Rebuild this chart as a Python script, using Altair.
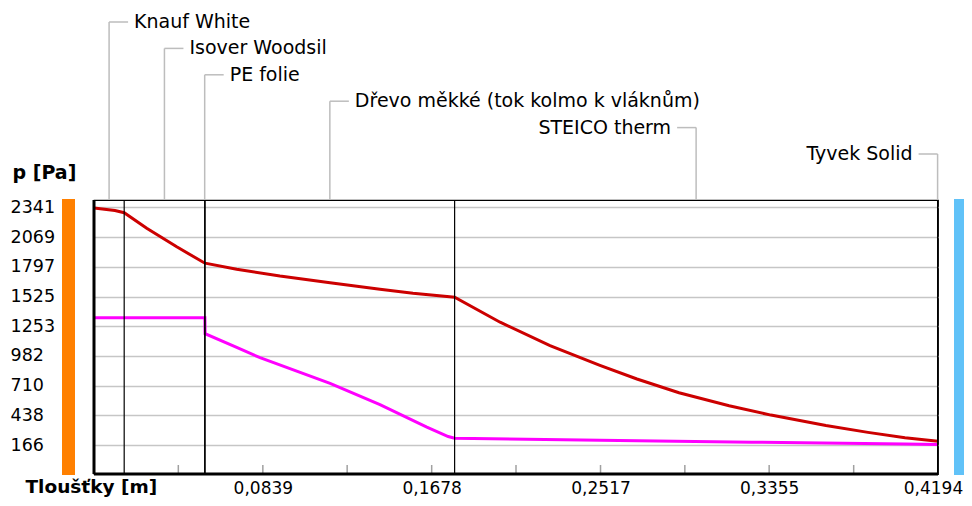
import altair as alt
import pandas as pd

# ---------------- data ----------------
layer_names = ["Knauf White", "Isover Woodsil", "PE folie",
               "Dřevo měkké (tok kolmo k vláknům)", "STEICO therm", "Tyvek Solid"]
layer_thickness = [0.015, 0.040, 0.0002, 0.124, 0.240, 0.0002]

# saturation pressure (red)
sat_x = [0.0, 0.0104, 0.015, 0.0262, 0.0411, 0.0543, 0.0552, 0.0709, 0.0924,
         0.1173, 0.1421, 0.1585, 0.1792, 0.2018, 0.2266, 0.2514, 0.2698,
         0.2907, 0.3156, 0.3364, 0.3637, 0.3846, 0.4030, 0.4194]
sat_p = [2335, 2312, 2292, 2149, 1980, 1838, 1830, 1774, 1712,
         1651, 1591, 1554, 1518, 1290, 1075, 895, 770,
         645, 525, 440, 345, 282, 232, 200]

# partial pressure (magenta)
par_x = [0.0, 0.015, 0.0551, 0.0552, 0.0709, 0.0825, 0.1173, 0.1421, 0.1654,
         0.1760, 0.1792, 0.2514, 0.3268, 0.4030, 0.4194]
par_p = [1330, 1330, 1330, 1185, 1060, 965, 730, 535, 330,
         244, 228, 210, 192, 175, 170]

y_ticks = [166, 438, 710, 982, 1253, 1525, 1797, 2069, 2341]
x_ticks = [0.0839, 0.1678, 0.2517, 0.3355, 0.4194]
x_minor_ticks = [0.0419, 0.0839, 0.1258, 0.1678, 0.2097, 0.2517, 0.2936, 0.3355, 0.3775]

# ---------------- layout ----------------
W, H = 844, 274
XMAX = 0.4194
YDOM = [-99, 2408]
FONT = "DejaVu Sans"
PA_PER_PX = (YDOM[1] - YDOM[0]) / H

xs = alt.Scale(domain=[0, XMAX], nice=False, zero=False)
ys = alt.Scale(domain=YDOM, nice=False, zero=False)

curves = pd.concat([
    pd.DataFrame({"series": "sat", "x": sat_x, "p": sat_p, "i": range(len(sat_x))}),
    pd.DataFrame({"series": "par", "x": par_x, "p": par_p, "i": range(len(par_x))}),
])

bounds = [0.0]
for t in layer_thickness:
    bounds.append(bounds[-1] + t)
inner_bounds = pd.DataFrame({"x": bounds[1:-1]})

anchors = []
for k, t in enumerate(layer_thickness):
    anchors.append(bounds[k] if t < 0.001 else (bounds[k] + bounds[k + 1]) / 2)

seg = 19 * XMAX / W
rows = []
for k, (name, ax) in enumerate(zip(layer_names, anchors)):
    side = -1 if ax > XMAX / 2 else 1
    above_px = 178 - k * 26.4           # distance above the plot top
    rows.append({"name": name, "x": ax, "hx": ax + side * seg,
                 "p": YDOM[1] + above_px * PA_PER_PX,
                 "side": "L" if side < 0 else "R"})
labels = pd.DataFrame(rows)

xaxis = alt.Axis(values=x_ticks, labelExpr="replace(format(datum.value, '.4f'), '.', ',')",
                 grid=False, ticks=False, domain=False, labelPadding=19,
                 labelBaseline="alphabetic", labelFlush=False, labelOverlap=False,
                 labelOffset={"condition": {"test": "datum.value > 0.41", "value": -5}, "value": 0},
                 labelFont=FONT, labelFontSize=17, labelColor="black",
                 title="Tloušťky [m]", titleX=-69, titleY=18, titleAlign="left",
                 titleBaseline="alphabetic", titleFont=FONT, titleFontSize=18.5,
                 titleFontWeight="bold", titleColor="black")
yaxis = alt.Axis(values=y_ticks, format="d", grid=True, gridColor="#c6c6c6", gridWidth=1.5,
                 ticks=False, domain=False, labelAlign="left", labelPadding=84,
                 labelBaseline="middle", labelFlush=False, labelOverlap=False, labelBound=False,
                 labelFont=FONT, labelFontSize=17.5, labelColor="black",
                 title="p [Pa]", titleX=-82, titleY=-28, titleAngle=0, titleAlign="left",
                 titleBaseline="middle", titleFont=FONT, titleFontSize=19,
                 titleFontWeight="bold", titleColor="black")

X = alt.X("x:Q", scale=xs, axis=xaxis)
Y = alt.Y("p:Q", scale=ys, axis=yaxis)

minor = alt.Chart(pd.DataFrame({"x": x_minor_ticks})).mark_rule(color="#a0a0a0", strokeWidth=1.5).encode(
    x=X, y=alt.value(H), y2=alt.value(H - 9))

bound_rules = alt.Chart(inner_bounds).mark_rule(color="black", strokeWidth=1.2).encode(x=X)

lines = alt.Chart(curves).mark_line(strokeWidth=3).encode(
    x=X, y=Y,
    color=alt.Color("series:N", scale=alt.Scale(domain=["sat", "par"], range=["#cc0000", "#ff00ff"]), legend=None),
    order="i:Q",
)

left_edge = alt.Chart(pd.DataFrame({"x": [0.0]})).mark_rule(color="black", strokeWidth=3).encode(x=X)
bottom_edge = alt.Chart(pd.DataFrame({"p": [YDOM[0]]})).mark_rule(color="black", strokeWidth=3).encode(y=Y)

orange = alt.Chart(pd.DataFrame({"a": [0]})).mark_rect(color="#ff8000").encode(
    x=alt.value(-32), x2=alt.value(-19), y=alt.value(-1), y2=alt.value(H + 1))
blue = alt.Chart(pd.DataFrame({"a": [0]})).mark_rect(color="#60c2f8").encode(
    x=alt.value(W + 16), x2=alt.value(W + 26), y=alt.value(-1), y2=alt.value(H + 1))

lead_v = alt.Chart(labels).mark_rule(color="#bdbdbd", strokeWidth=1.5).encode(
    x=X, y=Y, y2=alt.value(0))
lead_h = alt.Chart(labels).mark_rule(color="#bdbdbd", strokeWidth=1.5).encode(
    x=X, x2="hx:Q", y=Y)
txt_r = alt.Chart(labels).transform_filter("datum.side == 'R'").mark_text(
    align="left", baseline="middle", dx=25, font=FONT, fontSize=19, color="black").encode(
    x=X, y=Y, text="name:N")
txt_l = alt.Chart(labels).transform_filter("datum.side == 'L'").mark_text(
    align="right", baseline="middle", dx=-25, font=FONT, fontSize=19, color="black").encode(
    x=X, y=Y, text="name:N")

chart = alt.layer(
    lines, minor, bound_rules, left_edge, bottom_edge,
    orange, blue, lead_v, lead_h, txt_r, txt_l,
).properties(
    width=W, height=H,
    autosize=alt.AutoSizeParams(type="none"),
    padding={"left": 86, "top": 192, "right": 26, "bottom": 24},
    background="white",
).configure_view(stroke="black", strokeWidth=1.2)

chart.save("out.html", embed_options={"renderer": "svg", "actions": False})
